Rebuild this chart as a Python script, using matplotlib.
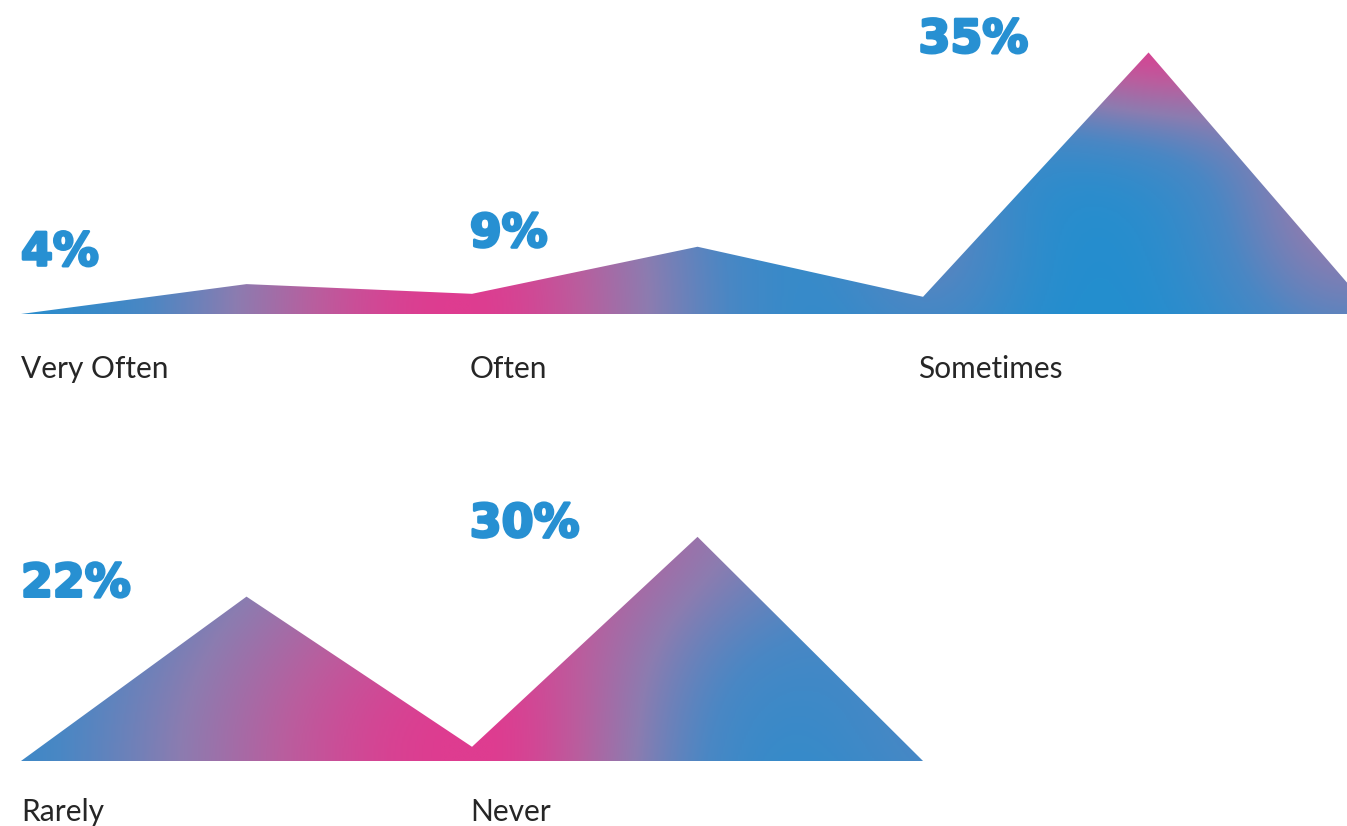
"""
Frequency responses shown as gradient-filled peaks
"""

import numpy as np
import matplotlib.pyplot as plt
import matplotlib.patheffects as pe
from matplotlib.colors import LinearSegmentedColormap

# Data
top_categories = ['Very Often', 'Often', 'Sometimes']
top_values = [4, 9, 35]
top_valleys = [2.7, 2.3]          # height of outline between neighbouring peaks

bottom_categories = ['Rarely', 'Never']
bottom_values = [22, 30]
bottom_valleys = [1.9]

# Styles
GRADIENT = LinearSegmentedColormap.from_list(
    'peaks', [(0.0, '#1F8FD0'), (0.25, '#4A87C4'), (0.5, '#8C7CB0'),
              (0.75, '#B95E9E'), (1.0, '#DE3C90')])
PCT_COLOR = '#2790D2'
CAT_COLOR = '#262626'

Y_MAX = 36
X_MAX = 2.94


def outline(values, valleys):
    """Polyline: baseline -> peak -> valley -> peak ... -> baseline"""
    xs, ys = [0.0], [0.0]
    for i, v in enumerate(values):
        xs.append(i + 0.5)
        ys.append(v)
        if i < len(valleys):
            xs.append(i + 1.0)
            ys.append(valleys[i])
    xs.append(float(len(values)))
    ys.append(0.0)
    return xs, ys


def pink_field(blobs):
    """Pink weight on a grid, built from soft gaussian blobs"""
    gx = np.linspace(0, X_MAX, 700)
    gy = np.linspace(0, Y_MAX, 220)
    X, Y = np.meshgrid(gx, gy)
    t = np.zeros_like(X)
    for cx, cy, sxl, sxr, sy, amp in blobs:
        sx = np.where(X < cx, sxl, sxr)
        t += amp * np.exp(-((X - cx) / sx) ** 2 / 2 - ((Y - cy) / sy) ** 2 / 2)
    return np.clip(t, 0, 1)


def draw_row(ax, categories, values, valleys, blobs, label_offset):
    xs, ys = outline(values, valleys)
    poly = ax.fill(xs, ys, facecolor='none', edgecolor='none')[0]
    img = ax.imshow(pink_field(blobs), cmap=GRADIENT, vmin=0, vmax=1,
                    extent=[0, X_MAX, 0, Y_MAX], origin='lower',
                    aspect='auto', interpolation='bilinear', zorder=1)
    img.set_clip_path(poly)

    for i, (cat, v) in enumerate(zip(categories, values)):
        ax.text(i * 0.995, max(v, 6.5), f'{v}%', color=PCT_COLOR,
                fontsize=33, fontweight='bold', family='DejaVu Sans',
                ha='left', va='baseline', zorder=3,
                path_effects=[pe.withStroke(linewidth=2.0,
                                            foreground=PCT_COLOR)])
        ax.annotate(cat, xy=(i * 0.995, 0), xytext=(0, label_offset),
                    textcoords='offset points', color=CAT_COLOR,
                    fontsize=21.5, family=['Lato', 'DejaVu Sans'],
                    ha='left', va='baseline', annotation_clip=False)

    ax.set_xlim(0, X_MAX)
    ax.set_ylim(0, Y_MAX)
    ax.axis('off')


fig = plt.figure(figsize=(13.47, 8.26), dpi=100)

ax_top = fig.add_axes([21 / 1347, 512 / 826, 1326 / 1347, 269 / 826])
ax_bot = fig.add_axes([21 / 1347, 65 / 826, 1326 / 1347, 269 / 826])

# (cx, cy, sigma_x left, sigma_x right, sigma_y, amplitude)
top_blobs = [
    (0.97, 0, 0.42, 0.36, 30, 1.0),
    (2.50, 38, 0.30, 0.30, 9, 0.95),
    (2.95, 15, 0.22, 0.22, 15, 0.55),
    (2.02, 10, 0.15, 0.15, 12, 0.30),
]
bottom_blobs = [
    (1.00, 0, 0.55, 0.30, 28, 1.0),
    (1.45, 34, 0.35, 0.40, 13, 0.45),
    (2.10, 5, 0.25, 0.25, 15, 0.25),
]

draw_row(ax_top, top_categories, top_values, top_valleys, top_blobs, -46)
draw_row(ax_bot, bottom_categories, bottom_values, bottom_valleys,
         bottom_blobs, -43)

plt.savefig('out.png', dpi=100, facecolor='white')
plt.close()
